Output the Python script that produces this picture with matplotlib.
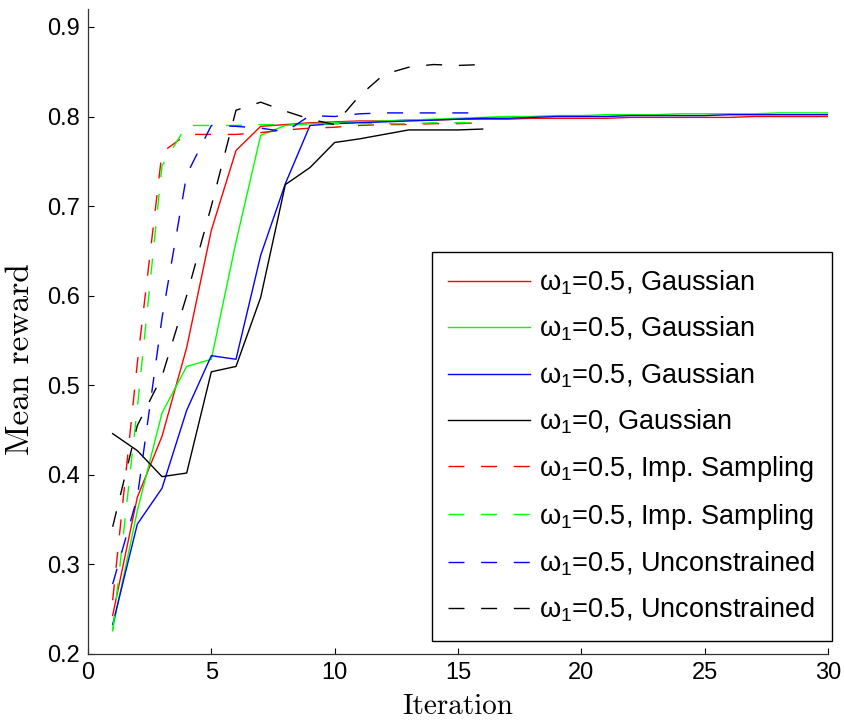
import matplotlib
matplotlib.use("Agg")
import matplotlib.pyplot as plt

plt.rcParams['mathtext.fontset'] = 'custom'
plt.rcParams['mathtext.rm'] = 'Liberation Sans'
plt.rcParams['mathtext.it'] = 'Liberation Sans'
plt.rcParams['mathtext.bf'] = 'Liberation Sans:bold'

# ---- data ----
iters_long = list(range(1, 31))
iters_short = list(range(1, 17))

gauss_red = [0.243, 0.375, 0.443, 0.542, 0.673, 0.762, 0.789, 0.791, 0.793, 0.794,
             0.795, 0.795, 0.796, 0.796, 0.797, 0.797, 0.797, 0.798, 0.798, 0.798,
             0.798, 0.799, 0.799, 0.799, 0.799, 0.799, 0.800, 0.800, 0.800, 0.800]
gauss_green = [0.228, 0.360, 0.469, 0.521, 0.529, 0.660, 0.779, 0.790, 0.792, 0.793,
               0.794, 0.795, 0.796, 0.797, 0.798, 0.799, 0.800, 0.800, 0.801, 0.801,
               0.802, 0.802, 0.802, 0.803, 0.803, 0.803, 0.803, 0.804, 0.804, 0.804]
gauss_blue = [0.233, 0.345, 0.385, 0.472, 0.533, 0.529, 0.645, 0.725, 0.790, 0.792,
              0.793, 0.794, 0.795, 0.796, 0.797, 0.798, 0.798, 0.799, 0.800, 0.800,
              0.800, 0.801, 0.801, 0.801, 0.801, 0.802, 0.802, 0.802, 0.802, 0.802]
gauss_black = [0.446, 0.427, 0.398, 0.402, 0.515, 0.521, 0.598, 0.724, 0.743, 0.771,
               0.775, 0.780, 0.785, 0.785, 0.785, 0.786]
imp_red = [0.260, 0.525, 0.760, 0.780, 0.780, 0.780, 0.782, 0.785, 0.787, 0.788,
           0.790, 0.791, 0.791, 0.792, 0.792, 0.793]
imp_green = [0.225, 0.475, 0.745, 0.790, 0.790, 0.790, 0.791, 0.791, 0.791, 0.792,
             0.792, 0.792, 0.792, 0.793, 0.793, 0.793]
unc_blue = [0.278, 0.375, 0.575, 0.735, 0.790, 0.789, 0.787, 0.783, 0.801, 0.800,
            0.803, 0.804, 0.804, 0.804, 0.804, 0.804]
unc_black = [0.342, 0.455, 0.510, 0.600, 0.700, 0.807, 0.816, 0.806, 0.797, 0.791,
             0.823, 0.847, 0.855, 0.858, 0.857, 0.858]

labels = [r'$\omega_1$=0.5, Gaussian', r'$\omega_1$=0.5, Gaussian',
          r'$\omega_1$=0.5, Gaussian', r'$\omega_1$=0, Gaussian',
          r'$\omega_1$=0.5, Imp. Sampling', r'$\omega_1$=0.5, Imp. Sampling',
          r'$\omega_1$=0.5, Unconstrained', r'$\omega_1$=0.5, Unconstrained']

xticks = [0, 5, 10, 15, 20, 25, 30]
yticks = [0.2, 0.3, 0.4, 0.5, 0.6, 0.7, 0.8, 0.9]

# ---- figure ----
W, H = 844, 722
fig = plt.figure(figsize=(W / 100, H / 100), dpi=100)
ax_l, ax_r, ax_b, ax_t = 88, 828, 654, 9
ax = fig.add_axes([ax_l / W, 1 - ax_b / H, (ax_r - ax_l) / W, (ax_b - ax_t) / H])

lw = 1.0
dash = (0, (11.5, 12))
series = [
    (iters_long, gauss_red, '#ff0000', '-'),
    (iters_long, gauss_green, '#00ff00', '-'),
    (iters_long, gauss_blue, '#0000ff', '-'),
    (iters_short, gauss_black, '#000000', '-'),
    (iters_short, imp_red, '#ff0000', dash),
    (iters_short, imp_green, '#00ff00', dash),
    (iters_short, unc_blue, '#0000ff', dash),
    (iters_short, unc_black, '#000000', dash),
]
for (x, y, c, ls), lab in zip(series, labels):
    ax.plot(x, y, color=c, linestyle=ls, linewidth=lw, label=lab)

ax.set_xlim(0, 30)
ax.set_ylim(0.2, 0.92)
ax.set_xticks(xticks)
ax.set_yticks(yticks)
ax.set_xticklabels([str(t) for t in xticks], fontname='Liberation Sans', fontsize=17)
ax.set_yticklabels([f'{t:.1f}' for t in yticks], fontname='Liberation Sans', fontsize=17)
ax.tick_params(direction='in', length=4.5, width=0.8, top=False, right=False, pad=6)
for s in ['top', 'right']:
    ax.spines[s].set_visible(False)
for s in ['left', 'bottom']:
    ax.spines[s].set_linewidth(0.9)
    ax.spines[s].set_color('#333333')

ax.set_xlabel('Iteration', fontname='cmr10', fontsize=21, labelpad=7)
ax.set_ylabel('Mean reward', fontname='cmr10', fontsize=24)
ax.yaxis.set_label_coords((35 - ax_l) / (ax_r - ax_l), (ax_b - 359) / (ax_b - ax_t))

leg = ax.legend(loc='upper right', bbox_to_anchor=(1.005, (ax_b - 252) / (ax_b - ax_t)),
                borderaxespad=0, handlelength=3.0, handletextpad=0.35,
                labelspacing=0.66, borderpad=0.6, fancybox=False, framealpha=1,
                edgecolor='black', prop={'family': 'Liberation Sans', 'size': 19.5})
leg.get_frame().set_linewidth(1.0)

fig.savefig('out.png', dpi=100)
